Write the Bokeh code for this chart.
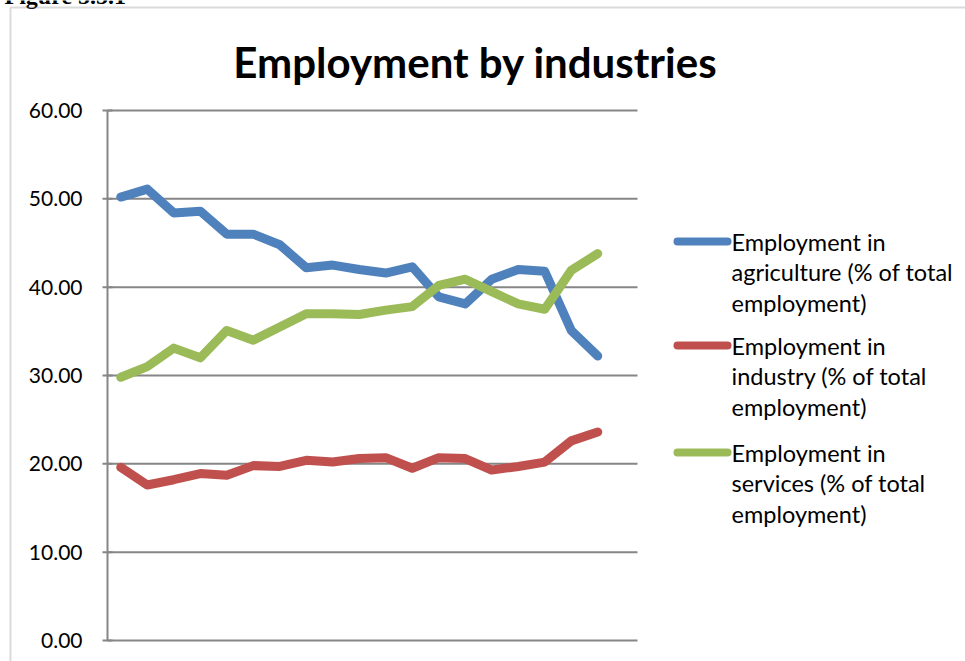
from bokeh.plotting import figure
from bokeh.models import Range1d, Label, BoxAnnotation
from bokeh.embed import file_html
from bokeh.resources import INLINE

# ---- data ----
points = list(range(19))
agriculture = [50.2, 51.1, 48.4, 48.6, 46.0, 46.0, 44.8, 42.2, 42.5, 42.0,
               41.6, 42.3, 38.9, 38.1, 40.9, 42.0, 41.8, 35.1, 32.2]
industry = [19.6, 17.6, 18.2, 18.9, 18.7, 19.8, 19.7, 20.4, 20.2, 20.6,
            20.7, 19.5, 20.7, 20.6, 19.3, 19.7, 20.2, 22.6, 23.6]
services = [29.8, 31.0, 33.1, 32.0, 35.1, 34.0, 35.5, 37.0, 37.0, 36.9,
            37.4, 37.8, 40.2, 40.9, 39.5, 38.1, 37.5, 41.9, 43.8]
y_ticks = [0, 10, 20, 30, 40, 50, 60]
y_tick_labels = ["0.00", "10.00", "20.00", "30.00", "40.00", "50.00", "60.00"]
series_names = [["Employment in", "agriculture (% of total", "employment)"],
                ["Employment in", "industry (% of total", "employment)"],
                ["Employment in", " services (% of total", "employment)"]]
colors = ["#4F81BD", "#C0504D", "#9BBB59"]
title_text = "Employment by industries"
caption_text = "Figure 5.5.1"

# ---- layout (pixels) ----
W, H = 965, 661
FL, FT, FR, FB = 107, 110, 637, 640          # plot area in the canvas
n_cat = 20                                   # category slots on the x axis
x_lo, x_hi = -0.5, n_cat - 0.5
y_lo, y_hi = y_ticks[0], y_ticks[-1]
kx = (FR - FL) / (x_hi - x_lo)
ky = (FB - FT) / (y_hi - y_lo)

p = figure(width=W, height=H, output_backend="svg", toolbar_location=None,
           x_range=Range1d(x_lo - FL / kx, x_hi + (W - FR) / kx),
           y_range=Range1d(y_lo - (H - FB) / ky, y_hi + FT / ky),
           min_border=0, x_axis_location=None, y_axis_location=None)
p.outline_line_color = None
p.background_fill_color = "white"
p.border_fill_color = "white"
p.grid.visible = False

GRID = "#868686"
# gridlines at tick values across the plot area
p.segment(x0=[x_lo] * len(y_ticks), x1=[x_hi] * len(y_ticks), y0=y_ticks, y1=y_ticks,
          line_color=GRID, line_width=2)
# value axis line and ticks
p.segment(x0=[x_lo], x1=[x_lo], y0=[y_lo], y1=[y_hi], line_color=GRID, line_width=2)
p.scatter(x=[x_lo] * len(y_ticks), y=y_ticks, marker="dash", size=10,
          line_color=GRID, line_width=2)
# tick labels
p.text(x=[x_lo] * len(y_ticks), y=y_ticks, text=y_tick_labels, x_offset=-25,
       text_align="right", text_baseline="middle", text_font_size="21px",
       text_color="#000000", text_font={"value": "Lato"})

for vals, c in zip([agriculture, industry, services], colors):
    p.line(points, vals, line_color=c, line_width=9,
           line_cap="round", line_join="round")

# title
p.add_layout(Label(x=475, y=H - 61, x_units="screen", y_units="screen", text=title_text,
                   text_font="Lato", text_font_style="bold", text_font_size="42px",
                   text_align="center", text_baseline="middle", text_color="#000000"))

# caption of the page, clipped at the top edge
p.add_layout(Label(x=4, y=H + 5, x_units="screen", y_units="screen", text=caption_text,
                   text_font="Liberation Serif", text_font_style="bold", text_font_size="24px",
                   text_align="left", text_baseline="middle", text_color="#000000"))

# outer chart border
p.add_layout(BoxAnnotation(left=10, right=W + 30, top=H - 7, bottom=-30,
                           left_units="screen", right_units="screen",
                           top_units="screen", bottom_units="screen",
                           fill_color=None, fill_alpha=0, line_color=GRID, line_width=2))

# legend
leg_y = [241, 345, 452]
for lines, c, ly in zip(series_names, colors, leg_y):
    p.add_layout(BoxAnnotation(left=673, right=731, top=H - ly + 4, bottom=H - ly - 4,
                               left_units="screen", right_units="screen",
                               top_units="screen", bottom_units="screen",
                               fill_color=c, fill_alpha=1.0, line_color=None,
                               border_radius=4))
    for i, t in enumerate(lines):
        p.add_layout(Label(x=731, y=H - (ly + 30.5 * i), x_units="screen", y_units="screen",
                           text=t, text_font="Lato", text_font_size="23.5px",
                           text_align="left", text_baseline="middle", text_color="#000000"))

open("out.html", "w").write(file_html(p, INLINE))
